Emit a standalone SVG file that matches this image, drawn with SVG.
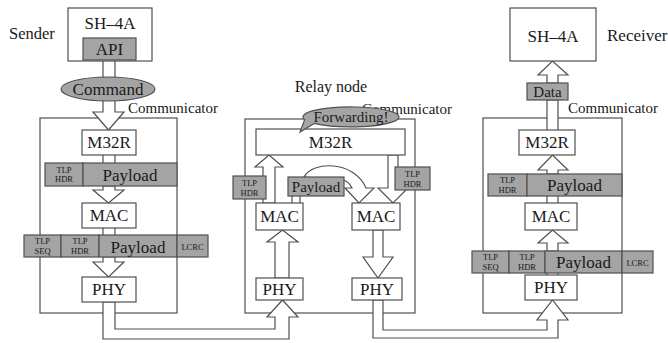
<svg xmlns="http://www.w3.org/2000/svg" width="668" height="343" viewBox="0 0 668 343" font-family="'Liberation Serif', 'Times New Roman', 'DejaVu Serif', serif">
<style>
.frame{fill:none;stroke:#505050;stroke-width:1.2}
.box{fill:#fff;stroke:#505050;stroke-width:1.2}
.g{fill:#a4a4a4;stroke:#505050;stroke-width:1.2}
.pipe{fill:#fff;stroke:#505050;stroke-width:1.2;stroke-linejoin:miter}
.ln{fill:none;stroke:#505050;stroke-width:1.2}
text{font-family:'Liberation Serif','Times New Roman','DejaVu Serif',serif;fill:#1a1a1a}
.t{font-size:17px;text-anchor:middle}
.m{font-size:15px;text-anchor:middle}
.s{font-size:8.5px;text-anchor:middle}
.lab{font-size:15px}
</style>
<rect width="668" height="343" fill="#fff"/>

<g id="frames">
<rect class="frame" x="40" y="118" width="137" height="195"/>
<rect class="frame" x="245" y="119" width="170" height="194"/>
<rect class="frame" x="483" y="118" width="139" height="195"/>
<text class="lab" x="128" y="113">Communicator</text>
<text class="lab" x="362" y="114">Communicator</text>
<text class="lab" x="568" y="113">Communicator</text>
<text x="9" y="39" font-size="16.5">Sender</text>
<text x="331" y="92" font-size="16" text-anchor="middle">Relay node</text>
<text x="607" y="41" font-size="17">Receiver</text>
</g>

<g id="connectors">
<path class="pipe" d="M103,60 V112 H93 L108.5,130 L124,112 H115 V60 Z"/>
<path class="ln" d="M103,155 V163 M115,155 V163"/>
<path class="pipe" d="M103,186 V190 H93 L108.5,203 L124,190 H115 V186 Z"/>
<path class="ln" d="M103,228 V235 M115,228 V235"/>
<path class="pipe" d="M103,257 V262 H93 L108.5,277 L124,262 H115 V257 Z"/>
<path class="pipe" d="M103,302 V339 H289 V317 H298 L282.5,300 L267,317 H275 V329 H115 V302 Z"/>

<path class="pipe" d="M263,203 V167 H255 L269,155 L283,167 H275 V203 Z"/>
<path class="ln" d="M292,196 V203 M300,196 V203"/>
<path class="pipe" d="M304,177 C312,161 354,160 366,188 H374 L359,203 L345,188 H352 C350,184 347,181 343,180 Z"/>
<path class="pipe" d="M388,155 V188 H378 L393,203 L408,188 H398 V155 Z"/>
<path class="pipe" d="M275,278 V242 H267 L282.5,230 L298,242 H289 V278 Z"/>
<path class="pipe" d="M373,230 V257 H363 L378,278 L393,257 H383 V230 Z"/>
<path class="pipe" d="M373,300 V338 H558 V320 H568 L552.5,300 L537,320 H547 V330 H383 V300 Z"/>

<path class="ln" d="M547,273 V275 M558,273 V275"/>
<path class="pipe" d="M547,251 V243 H538 L552.5,230 L568,243 H558 V251 Z"/>
<path class="ln" d="M547,196 V203 M558,196 V203"/>
<path class="pipe" d="M547,174 V170 H538 L552.5,155 L568,170 H558 V174 Z"/>
<path class="pipe" d="M547,130 V100 H558 V130"/>
<path class="pipe" d="M547,83 V75 H538 L552.5,61 L568,75 H558 V83 Z"/>
</g>

<g id="sender-sh4a">
<rect class="box" x="68" y="8" width="84" height="53"/>
<text class="t" x="110" y="29">SH–4A</text>
</g>
<g id="sender-api">
<rect class="g" x="83" y="38" width="53" height="22"/>
<text class="t" x="109.5" y="55">API</text>
</g>
<g id="sender-command">
<ellipse class="g" cx="108" cy="89" rx="47" ry="12"/>
<text class="t" x="108" y="95" font-size="17.5">Command</text>
</g>
<g id="sender-m32r">
<rect class="box" x="82" y="130" width="54" height="25"/>
<text class="t" x="109" y="148">M32R</text>
</g>
<g id="sender-packet1">
<rect class="g" x="45" y="163" width="38" height="23"/>
<rect class="g" x="83" y="163" width="94" height="23"/>
<text class="s" x="64" y="172.5">TLP</text>
<text class="s" x="64" y="182">HDR</text>
<text class="t" x="130" y="181">Payload</text>
</g>
<g id="sender-mac">
<rect class="box" x="82" y="203" width="54" height="25"/>
<text class="t" x="109" y="221">MAC</text>
</g>
<g id="sender-packet2">
<rect class="g" x="24" y="235" width="37" height="22"/>
<rect class="g" x="61" y="235" width="38" height="22"/>
<rect class="g" x="99" y="235" width="78" height="22"/>
<rect class="g" x="177" y="235" width="31" height="22"/>
<text class="s" x="42.5" y="244">TLP</text>
<text class="s" x="42.5" y="254">SEQ</text>
<text class="s" x="80" y="244">TLP</text>
<text class="s" x="80" y="254">HDR</text>
<text class="t" x="138" y="253">Payload</text>
<text class="s" x="192.5" y="249.5">LCRC</text>
</g>
<g id="sender-phy">
<rect class="box" x="82" y="277" width="54" height="25"/>
<text class="t" x="109" y="295">PHY</text>
</g>

<g id="relay-m32r">
<rect class="box" x="256" y="129" width="149" height="26"/>
<text class="t" x="330.5" y="148">M32R</text>
</g>
<g id="relay-forwarding">
<path class="g" d="M314.2,123.4 L300,132 L304.6,119.6 A48,10 0 1,1 314.2,123.4 Z"/>
<text class="m" x="351" y="122">Forwarding!</text>
</g>
<g id="relay-tlphdr-left">
<rect class="g" x="233" y="176" width="33" height="23"/>
<text class="s" x="249.5" y="185.5">TLP</text>
<text class="s" x="249.5" y="195.5">HDR</text>
</g>
<g id="relay-payload">
<rect class="g" x="288" y="177" width="56" height="19"/>
<text class="m" x="316" y="191.5">Payload</text>
</g>
<g id="relay-tlphdr-right">
<rect class="g" x="395" y="167" width="35" height="23"/>
<text class="s" x="412.5" y="176.5">TLP</text>
<text class="s" x="412.5" y="186.5">HDR</text>
</g>
<g id="relay-mac-left">
<rect class="box" x="256" y="203" width="47" height="27"/>
<text class="t" x="279.5" y="222">MAC</text>
</g>
<g id="relay-mac-right">
<rect class="box" x="352" y="203" width="48" height="27"/>
<text class="t" x="376" y="222">MAC</text>
</g>
<g id="relay-phy-left">
<rect class="box" x="256" y="278" width="47" height="22"/>
<text class="t" x="279.5" y="295">PHY</text>
</g>
<g id="relay-phy-right">
<rect class="box" x="352" y="278" width="50" height="22"/>
<text class="t" x="377" y="295">PHY</text>
</g>

<g id="receiver-sh4a">
<rect class="box" x="510" y="8" width="86" height="53"/>
<text class="t" x="553" y="42">SH–4A</text>
</g>
<g id="receiver-data">
<rect class="g" x="527" y="83" width="41" height="17"/>
<text class="m" x="547.5" y="97">Data</text>
</g>
<g id="receiver-m32r">
<rect class="box" x="519" y="130" width="56" height="25"/>
<text class="t" x="547" y="148">M32R</text>
</g>
<g id="receiver-packet1">
<rect class="g" x="488" y="174" width="39" height="22"/>
<rect class="g" x="527" y="174" width="95" height="22"/>
<text class="s" x="507.5" y="183">TLP</text>
<text class="s" x="507.5" y="193">HDR</text>
<text class="t" x="574.5" y="191">Payload</text>
</g>
<g id="receiver-mac">
<rect class="box" x="525" y="203" width="52" height="27"/>
<text class="t" x="551" y="222">MAC</text>
</g>
<g id="receiver-packet2">
<rect class="g" x="472" y="251" width="37" height="22"/>
<rect class="g" x="509" y="251" width="36" height="22"/>
<rect class="g" x="545" y="251" width="77" height="22"/>
<rect class="g" x="622" y="251" width="31" height="22"/>
<text class="s" x="490.5" y="260">TLP</text>
<text class="s" x="490.5" y="270">SEQ</text>
<text class="s" x="527" y="260">TLP</text>
<text class="s" x="527" y="270">HDR</text>
<text class="t" x="583.5" y="268">Payload</text>
<text class="s" x="637.5" y="265.5">LCRC</text>
</g>
<g id="receiver-phy">
<rect class="box" x="525" y="275" width="52" height="25"/>
<text class="t" x="551" y="293">PHY</text>
</g>
</svg>
